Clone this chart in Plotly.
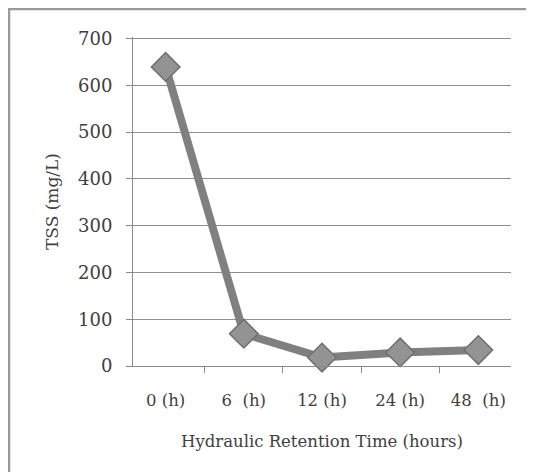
import plotly.graph_objects as go

categories = ["0 (h)", "6  (h)", "12 (h)", "24 (h)", "48  (h)"]
tss_values = [639, 69, 18, 29, 34]
y_ticks = [0, 100, 200, 300, 400, 500, 600, 700]

FONT = "DejaVu Serif"
TXT = "#404040"

fig = go.Figure()
fig.add_trace(go.Scatter(
    x=categories, y=tss_values, mode="lines+markers",
    line=dict(color="#808080", width=8),
    marker=dict(symbol="diamond", size=22, color="#939393",
                line=dict(color="#707070", width=1.5)),
    showlegend=False, cliponaxis=False,
))

fig.update_layout(
    width=534, height=472,
    margin=dict(l=125, r=31, t=29, b=114),
    paper_bgcolor="white", plot_bgcolor="white",
    font=dict(family=FONT, size=16, color=TXT),
    xaxis=dict(
        type="category", tickson="boundaries", ticks="outside", ticklen=6,
        tickcolor="#8a8a8a", showline=True, linecolor="#8a8a8a", linewidth=1,
        showgrid=False, ticklabelstandoff=19,
        tickfont=dict(family=FONT, size=16.5, color=TXT),
        title=dict(text="Hydraulic Retention Time (hours)", standoff=26,
                   font=dict(family=FONT, size=16.5, color=TXT)),
    ),
    yaxis=dict(
        range=[0, 703], tickvals=y_ticks, ticks="outside", ticklen=6,
        tickcolor="#8a8a8a", showline=True, linecolor="#8a8a8a", linewidth=1,
        showgrid=True, gridcolor="#8f8f8f", gridwidth=1, zeroline=False,
        ticklabelstandoff=10,
        tickfont=dict(family=FONT, size=18, color=TXT),
        title=dict(text="TSS (mg/L)", standoff=15,
                   font=dict(family=FONT, size=17, color=TXT)),
    ),
)

# outer frame (extends past the right/bottom edges like the reference crop)
fig.add_shape(type="rect", xref="paper", yref="paper",
              x0=-0.328, x1=1.3, y0=-0.6, y1=1.085,
              line=dict(color="#9a9a9a", width=2.5), fillcolor="rgba(0,0,0,0)",
              layer="below")

fig.write_html("out.html")
